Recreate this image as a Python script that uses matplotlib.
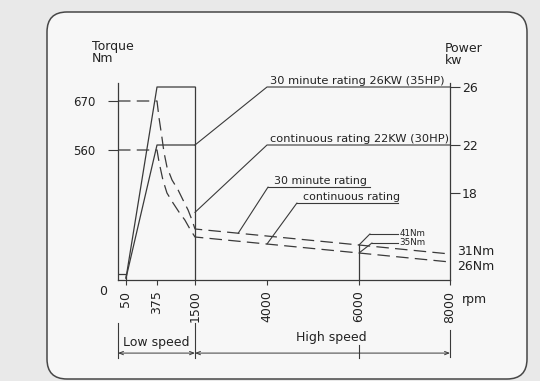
import numpy as np
import matplotlib.pyplot as plt
from matplotlib.patches import FancyBboxPatch
from matplotlib.transforms import IdentityTransform, blended_transform_factory

rpm_ticks = [50, 375, 1500, 4000, 6000, 8000]
torque_ticks = [560, 670]
power_ticks = [18, 22, 26]

# torque curves (dashed), rpm -> Nm
rpm_30 = [0, 375, 435, 520, 580, 670, 820, 1000, 1145, 1295, 1410, 1500, 6000, 8000]
tq_30 = [670, 670, 632, 589, 550, 475, 410, 360, 310, 260, 210, 165, 41, 31]
rpm_cont = [0, 375, 435, 550, 670, 850, 1025, 1200, 1350, 1500, 6000, 8000]
tq_cont = [560, 560, 500, 410, 345, 295, 250, 210, 165, 140, 35, 26]

# power curves (solid), rpm -> kW
rpm_pw = [50, 375, 1500]
pw_30 = [0.4, 26, 26]
pw_cont = [0.4, 22, 22]

# start step below 50 rpm
rpm_start = [0, 50, 50]
tq_start = [9, 9, 0]

# the drawing is a sketch, so the axes are not linear: piecewise scales
x_bp = ([0, 50, 375, 1500, 4000, 6000, 8000], [0, 8, 39, 77, 149, 241, 332])
tq_bp = ([0, 26, 31, 35, 41, 140, 165, 560, 670, 720],
         [0, 18, 26, 27, 35, 43, 51, 130, 179, 197])
pw_bp = ([0, 18, 22, 26, 27], [0, 87, 135, 193, 197])


def piecewise(xp, fp):
    xp = np.asarray(xp, float)
    fp = np.asarray(fp, float)

    def f(v):
        v = np.asarray(v, float)
        out = np.interp(v, xp, fp)
        out = np.where(v < xp[0], fp[0] + (v - xp[0]) * (fp[1] - fp[0]) / (xp[1] - xp[0]), out)
        out = np.where(v > xp[-1], fp[-1] + (v - xp[-1]) * (fp[-1] - fp[-2]) / (xp[-1] - xp[-2]), out)
        return out
    return f


def scale_of(bp):
    return (piecewise(bp[0], bp[1]), piecewise(bp[1], bp[0]))


def point_on(ax, rpm, r, t):
    # point on a drawn polyline at the given rpm
    pts = ax.transData.transform(np.column_stack([r, t]))
    xd = ax.transData.transform((rpm, 0))[0]
    yd = np.interp(xd, pts[:, 0], pts[:, 1])
    return ax.transData.inverted().transform((xd, yd))


ink = '#3a3a3a'
txt = '#222222'
dash = (0, (10, 5))
plt.rcParams['font.family'] = 'DejaVu Sans'

fig = plt.figure(figsize=(5.4, 3.81), dpi=100, facecolor='#e9e9e9')
frame = FancyBboxPatch((47, 2), 480, 367, boxstyle='round,pad=0,rounding_size=20',
                       transform=IdentityTransform(), fc='#f7f7f7', ec='#474747', lw=1.1, zorder=0)
fig.add_artist(frame)

ax = fig.add_axes([118 / 540, 101 / 381, 332 / 540, 197 / 381])
ax.patch.set_visible(False)
ax.set_xscale('function', functions=scale_of(x_bp))
ax.set_yscale('function', functions=scale_of(tq_bp))
ax.set_xlim(0, 8000)
ax.set_ylim(0, 720)

ax2 = ax.twinx()
ax2.patch.set_visible(False)
ax2.set_yscale('function', functions=scale_of(pw_bp))
ax2.set_ylim(0, 27)

for s in ['top', 'right']:
    ax.spines[s].set_visible(False)
for s in ['top', 'left', 'bottom']:
    ax2.spines[s].set_visible(False)
for s in ax.spines.values():
    s.set_color(ink)
    s.set_linewidth(0.9)
ax2.spines['right'].set_color(ink)
ax2.spines['right'].set_linewidth(0.9)

ax.set_xticks(rpm_ticks)
ax.set_xticklabels([str(v) for v in rpm_ticks], rotation=90, fontsize=9, color=txt)
ax.set_yticks(torque_ticks)
ax.set_yticklabels([str(v) for v in torque_ticks], fontsize=8.5, color=txt)
ax2.set_yticks(power_ticks)
ax2.set_yticklabels([str(v) for v in power_ticks], fontsize=9, color=txt)
ax.minorticks_off()
ax2.minorticks_off()
ax.tick_params(axis='x', direction='out', length=3.6, width=0.8, color=ink, pad=4)
ax.tick_params(axis='y', direction='out', length=7, width=0.8, color=ink, pad=9)
ax2.tick_params(axis='y', direction='out', length=7, width=0.8, color=ink, pad=1.5)

# curves
ax.plot(rpm_30, tq_30, color=ink, lw=0.9, ls=dash, clip_on=False)
ax.plot(rpm_cont, tq_cont, color=ink, lw=0.9, ls=dash, clip_on=False)
ax.plot(rpm_start, tq_start, color=ink, lw=0.9)
ax2.plot(rpm_pw, pw_30, color=ink, lw=0.9)
ax2.plot(rpm_pw, pw_cont, color=ink, lw=0.9)
ax2.plot([rpm_pw[-1], rpm_pw[-1]], [0, pw_30[-1]], color=ink, lw=0.9)
ax.plot([rpm_30[-2], rpm_30[-2]], [0, tq_30[-2]], color=ink, lw=0.9)

# power rating leaders
lw_l = 0.8
ax2.plot([1500, 4000, 8000], [pw_cont[-1], pw_30[-1], pw_30[-1]], color=ink, lw=lw_l)
ax2.plot([1500, 4000, 8000], [14, pw_cont[-1], pw_cont[-1]], color=ink, lw=lw_l)
ax2.annotate('30 minute rating 26KW (35HP)', xy=(4000, pw_30[-1]), xytext=(2, 1),
             textcoords='offset points', va='bottom', ha='left', fontsize=8.2, color=txt)
ax2.annotate('continuous rating 22KW (30HP)', xy=(4000, pw_cont[-1]), xytext=(2, 1),
             textcoords='offset points', va='bottom', ha='left', fontsize=8.2, color=txt)


def leader(start, knee, end, label, size):
    ax.annotate('', xy=start, xycoords='data', xytext=knee, textcoords='axes fraction',
                arrowprops=dict(arrowstyle='-', lw=lw_l, color=ink, shrinkA=0, shrinkB=0))
    ax.plot([knee[0], end], [knee[1], knee[1]], transform=ax.transAxes, color=ink, lw=lw_l, clip_on=False)
    if size > 7:
        ax.annotate(label, xy=knee, xycoords='axes fraction', xytext=(4, 1), textcoords='offset points',
                    va='bottom', ha='left', fontsize=size, color=txt)
    else:
        ax.annotate(label, xy=(end, knee[1]), xycoords='axes fraction', xytext=(1, 0),
                    textcoords='offset points', va='center', ha='left', fontsize=size, color=txt)


leader(point_on(ax, 3000, rpm_30, tq_30), (0.452, 0.472), 0.759, '30 minute rating', 7.9)
leader(point_on(ax, 4000, rpm_cont, tq_cont), (0.539, 0.391), 0.843, 'continuous rating', 7.9)
leader((6000, tq_30[-2]), (0.759, 0.234), 0.843, '41Nm', 6.3)
leader((6000, tq_cont[-2]), (0.765, 0.188), 0.843, '35Nm', 6.3)

# end labels of torque curves
ax.annotate('31Nm', xy=(8000, tq_30[-1]), xytext=(5, 2), textcoords='offset points',
            va='center', ha='left', fontsize=9, color=txt, annotation_clip=False)
ax.annotate('26Nm', xy=(8000, tq_cont[-1]), xytext=(5, -3), textcoords='offset points',
            va='center', ha='left', fontsize=9, color=txt, annotation_clip=False)

# axis titles
ax.text(-0.078, 1.22, 'Torque\nNm', transform=ax.transAxes, va='top', ha='left',
        fontsize=9, linespacing=0.95, color=txt)
ax.text(0.985, 1.21, 'Power\nkw', transform=ax.transAxes, va='top', ha='left',
        fontsize=9, linespacing=0.95, color=txt)
ax.text(-0.045, -0.06, '0', transform=ax.transAxes, va='center', ha='center', fontsize=9, color=txt)
ax.text(1.036, -0.10, 'rpm', transform=ax.transAxes, va='center', ha='left', fontsize=9, color=txt)

# speed range dimensions
blend = blended_transform_factory(ax.transData, ax.transAxes)
for r, y0, y1 in [(0, -0.218, -0.396), (1500, -0.218, -0.396), (8000, -0.254, -0.391), (6000, -0.33, -0.396)]:
    ax.plot([r, r], [y0, y1], transform=blend, color=ink, lw=0.8, clip_on=False)
arrow = dict(arrowstyle='<->,head_length=0.3,head_width=0.12', lw=0.7, color=ink, shrinkA=0, shrinkB=0)
ax.annotate('', xy=(0, -0.371), xytext=(1500, -0.371), xycoords=blend, textcoords=blend,
            arrowprops=arrow, annotation_clip=False)
ax.annotate('', xy=(1500, -0.371), xytext=(8000, -0.371), xycoords=blend, textcoords=blend,
            arrowprops=arrow, annotation_clip=False)
ax.text(0.115, -0.315, 'Low speed', transform=ax.transAxes, va='center', ha='center', fontsize=9, color=txt)
ax.text(0.642, -0.29, 'High speed', transform=ax.transAxes, va='center', ha='center', fontsize=9, color=txt)

fig.savefig('out.png', dpi=100, facecolor=fig.get_facecolor())
